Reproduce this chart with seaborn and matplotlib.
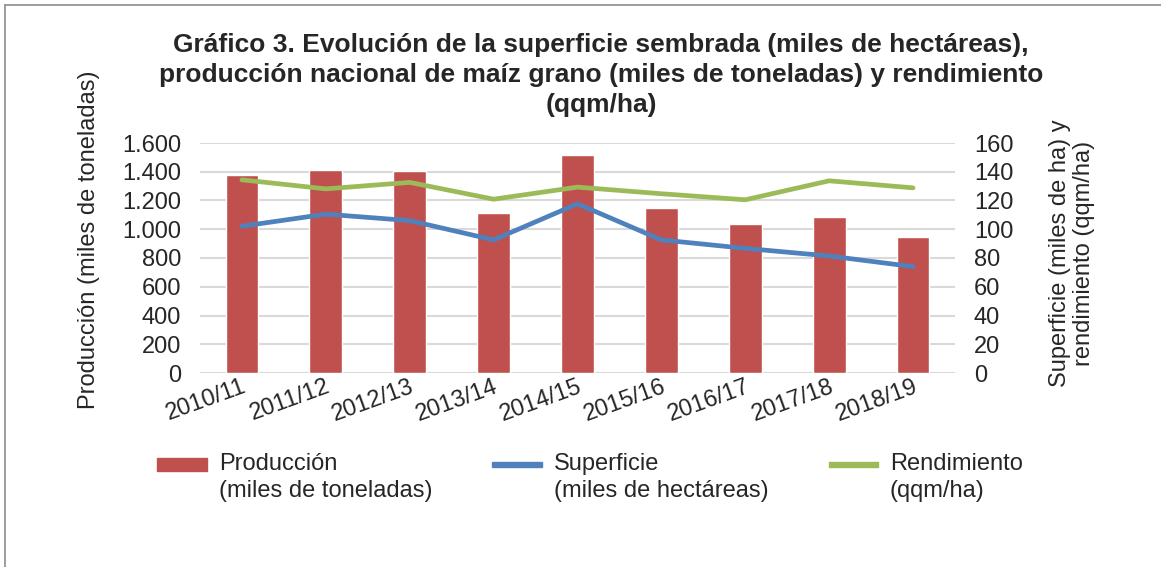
import numpy as np
import pandas as pd
import matplotlib
matplotlib.use("Agg")
import matplotlib.pyplot as plt
from matplotlib.lines import Line2D
from matplotlib.patches import Patch, Rectangle
from matplotlib.legend_handler import HandlerPatch
import seaborn as sns

# Datos
campanas = ["2010/11", "2011/12", "2012/13", "2013/14", "2014/15",
            "2015/16", "2016/17", "2017/18", "2018/19"]
produccion = [1379, 1412, 1407, 1114, 1516, 1147, 1037, 1084, 949]
superficie = [102.1, 110.5, 106.0, 92.6, 117.7, 92.6, 86.7, 81.4, 74.0]
rendimiento = [134.4, 128.1, 132.6, 120.9, 129.3, 124.7, 120.5, 133.7, 128.8]

rojo = "#C0504D"
azul = "#4F81BD"
verde = "#9BBB59"

sns.set_style("white")
plt.rcParams["font.family"] = ["Liberation Sans", "DejaVu Sans"]

df = pd.DataFrame({"campana": campanas, "produccion": produccion,
                   "superficie": superficie, "rendimiento": rendimiento})
df["pos"] = np.arange(len(df))

W, H = 1161, 567
fig = plt.figure(figsize=(W / 100, H / 100), dpi=100)
ax = fig.add_axes([200 / W, 1 - 373 / H, 755 / W, 230 / H])

# Barras de producción (eje izquierdo)
sns.barplot(data=df, x="campana", y="produccion", color=rojo, width=0.39,
            saturation=1, ax=ax, zorder=2)
ax.set_ylim(0, 1600)
ax.set_yticks(range(0, 1601, 200))
ax.set_yticklabels([f"{v:,}".replace(",", ".") for v in range(0, 1601, 200)])
ax.yaxis.grid(True, color="#D9D9D9", linewidth=1.5, zorder=0)
ax.set_axisbelow(True)
ax.set_xlim(-0.5, len(df) - 0.5)
ax.set_xlabel("")
ax.set_ylabel("Producción (miles de toneladas)", fontsize=17, labelpad=16)
ax.yaxis.label.set_y(0.58)
ax.tick_params(axis="y", labelsize=17, length=0, pad=13.5)
ax.tick_params(axis="x", labelsize=17, length=0, pad=2)
for lab in ax.get_xticklabels():
    lab.set_rotation(20)
    lab.set_ha("right")
    lab.set_rotation_mode("anchor")
for s in ax.spines.values():
    s.set_visible(False)

# Líneas (eje derecho)
ax2 = ax.twinx()
sns.lineplot(data=df, x="pos", y="superficie", color=azul, linewidth=3.4,
             ax=ax2, solid_capstyle="round")
sns.lineplot(data=df, x="pos", y="rendimiento", color=verde, linewidth=3.4,
             ax=ax2, solid_capstyle="round")
ax2.set_ylim(0, 160)
ax2.set_yticks(range(0, 161, 20))
ax2.set_xlim(-0.5, len(df) - 0.5)
ax2.set_xlabel("")
ax2.set_ylabel("Superficie (miles de ha) y\nrendimiento (qqm/ha)", fontsize=17,
               labelpad=26, linespacing=1.1)
ax2.yaxis.label.set_y(0.52)
ax2.tick_params(axis="y", labelsize=17, length=0, pad=13.5)
ax2.grid(False)
for s in ax2.spines.values():
    s.set_visible(False)

fig.text(601 / W, 1 - 75 / H,
         "Gráfico 3. Evolución de la superficie sembrada (miles de hectáreas),\n"
         "producción nacional de maíz grano (miles de toneladas) y rendimiento\n"
         "(qqm/ha)",
         ha="center", va="center", fontsize=19, fontweight="bold", linespacing=1.3)


# símbolo de la leyenda alineado con la primera línea del texto
def caja(alto, sube):
    def f(legend, orig_handle, xdescent, ydescent, width, height, fontsize):
        return Rectangle((-xdescent, -ydescent + height / 2 - alto / 2 + sube),
                         width, alto)
    return f


h_prod = Patch(color=rojo)
h_sup = Patch(color=azul)
h_ren = Patch(color=verde)
labels = ["Producción\n(miles de toneladas)", "Superficie\n(miles de hectáreas)",
          "Rendimiento\n(qqm/ha)"]
leg = fig.legend([h_prod, h_sup, h_ren], labels, loc="upper left",
                 bbox_to_anchor=(136 / W, 1 - 432 / H), ncol=3, frameon=False,
                 fontsize=17, handlelength=2.1, handletextpad=0.5,
                 columnspacing=2.55,
                 handler_map={h_prod: HandlerPatch(patch_func=caja(9.5, 10)),
                              h_sup: HandlerPatch(patch_func=caja(3.6, 10)),
                              h_ren: HandlerPatch(patch_func=caja(3.6, 10))})
for t in leg.get_texts():
    t.set_linespacing(1.3)

# marco
fig.add_artist(Line2D([5 / W, 5 / W], [0, 1 - 5 / H], transform=fig.transFigure,
                      color="#8C8C8C", linewidth=1.2))
fig.add_artist(Line2D([5 / W, 1], [1 - 5 / H, 1 - 5 / H], transform=fig.transFigure,
                      color="#8C8C8C", linewidth=1.2))

fig.savefig("out.png", dpi=100)
